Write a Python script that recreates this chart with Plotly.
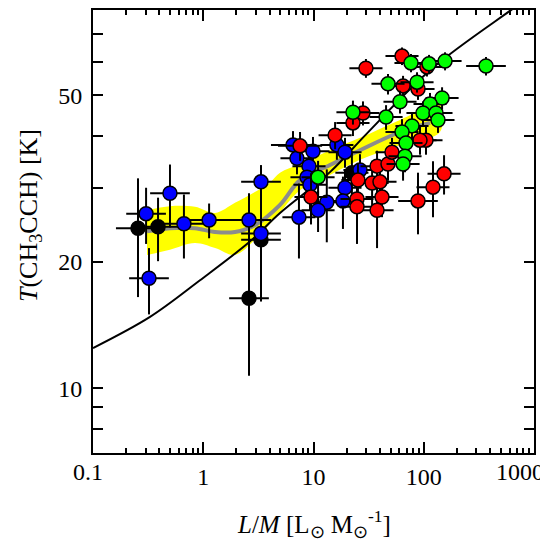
import plotly.graph_objects as go
import numpy as np

# ---- data ----
black_lm = [0.256, 0.389, 2.60, 3.34, 22.3]
black_t = [24.1, 24.3, 16.4, 22.6, 32.7]
black_xe = [0.20, 0.20, 0.18, 0.18, 0.15]   # dex
black_ye = [7.6, 4.2, 5.7, 6.5, 4.0]        # K

blue_lm = [0.303, 0.322, 0.499, 0.668, 1.13, 2.60, 3.34, 3.34, 7.38, 6.52, 7.08, 9.89,
           16.3, 19.3, 9.10, 8.73, 9.29, 13.2, 11.0, 19.3, 18.5, 26.4]
blue_t = [26.1, 18.3, 29.2, 24.7, 25.2, 25.2, 31.1, 23.4, 25.6, 38.1, 35.4, 36.8,
          38.1, 36.6, 33.9, 31.9, 30.6, 27.8, 26.6, 30.1, 28.0, 33.2]
blue_xe = [0.18, 0.18, 0.18, 0.20, 0.20, 0.20, 0.18, 0.18, 0.15, 0.20, 0.15, 0.15,
           0.15, 0.15, 0.15, 0.15, 0.15, 0.15, 0.15, 0.15, 0.15, 0.15]
blue_ye = [4.0, 3.3, 5.0, 4.3, 2.4, 4.0, 3.0, 2.0, 5.2, 3.0, 3.0, 3.0,
           3.0, 3.0, 3.0, 3.0, 4.0, 5.5, 3.0, 3.0, 4.0, 3.0]

red_lm = [7.55, 15.7, 22.8, 28.1, 9.49, 25.3, 24.8, 24.8, 34.0, 40.1, 41.8, 37.7, 37.7,
          47.4, 51.5, 88.7, 121.3, 152.8, 104.8, 92.5, 64.9, 88.7, 29.9, 63.5, 106.9]
red_t = [37.9, 40.2, 43.0, 45.4, 28.6, 31.4, 28.3, 27.1, 30.9, 31.1, 28.6, 26.6, 33.9,
         34.3, 36.6, 28.0, 30.2, 32.5, 39.1, 39.1, 52.7, 51.8, 58.1, 62.1, 58.5]
red_xe = [0.20, 0.15, 0.15, 0.15, 0.15, 0.15, 0.15, 0.15, 0.15, 0.15, 0.15, 0.15, 0.15,
          0.15, 0.15, 0.18, 0.15, 0.15, 0.15, 0.15, 0.15, 0.15, 0.15, 0.15, 0.15]
red_ye = [3.0, 3.0, 3.0, 3.0, 4.0, 3.0, 3.0, 5.0, 4.0, 3.0, 3.0, 5.0, 3.0,
          3.0, 3.0, 4.7, 4.6, 3.5, 3.0, 3.0, 3.0, 3.0, 3.0, 3.0, 3.0]

green_lm = [11.0, 22.8, 45.5, 47.4, 86.9, 60.9, 146.6, 114.0, 98.4, 129.1, 134.6, 78.2,
            63.5, 69.0, 67.6, 64.9, 76.6, 111.7, 156.0, 367.0]
green_t = [31.9, 45.6, 44.4, 53.3, 53.8, 48.3, 49.3, 47.7, 45.4, 45.4, 43.7, 42.3,
           40.9, 38.5, 35.8, 34.3, 59.8, 59.5, 60.4, 58.8]
green_xe = [0.15] * 19 + [0.18]
green_ye = [3.0] * 20

band_lm = [0.309, 0.499, 0.841, 1.28, 1.94, 2.94, 4.03, 4.97, 7.55, 14.1, 26.4, 60.9, 140.0]
band_hi = [26.6, 27.2, 27.1, 26.2, 27.7, 29.4, 31.0, 32.7, 34.3, 37.0, 39.6, 43.7, 47.5]
band_lo = [20.8, 21.4, 22.2, 21.6, 20.8, 22.6, 24.7, 26.3, 29.7, 32.3, 35.1, 38.1, 40.9]

med_lm = [0.309, 0.499, 0.841, 1.28, 1.94, 2.94, 4.97, 7.55, 14.1, 26.4, 60.9, 114.0]
med_t = [23.7, 24.1, 24.1, 23.6, 23.6, 24.5, 27.4, 31.4, 34.1, 37.0, 40.9, 43.0]

curve_lm = [0.1, 0.329, 0.934, 2.65, 4.97, 14.1, 30.6, 121.0, 605.0, 800.0]
curve_t = [12.47, 14.8, 18.1, 22.4, 26.2, 32.8, 40.6, 58.2, 79.6, 84.0]

x_ticks = [0.1, 1, 10, 100, 1000]
x_ticklabels = ["0.1", "1", "10", "100", "1000"]
y_ticks = [8, 9, 10, 20, 30, 40, 50, 60, 70]
y_ticklabels = ["", "", "10", "20", "", "", "50", "", ""]

FONT = "Liberation Serif, Times New Roman, serif"

fig = go.Figure()

# yellow band
fig.add_trace(go.Scatter(
    x=band_lm + band_lm[::-1], y=band_hi + band_lo[::-1],
    fill="toself", fillcolor="#FFFF00", line=dict(width=0, color="#FFFF00"),
    mode="lines", line_shape="spline", hoverinfo="skip", showlegend=False))
# grey running median
fig.add_trace(go.Scatter(x=med_lm, y=med_t, mode="lines", line_shape="spline",
                         line=dict(color="#8C8C8C", width=4), showlegend=False))
# black model curve
fig.add_trace(go.Scatter(x=curve_lm, y=curve_t, mode="lines", line_shape="spline",
                         line=dict(color="black", width=2), showlegend=False))


def add_group(lm, t, xe, ye, color):
    lm = np.array(lm)
    xe = np.array(xe)
    fig.add_trace(go.Scatter(
        x=lm, y=t, mode="markers",
        marker=dict(size=14, color=color, line=dict(color="black", width=1.5)),
        error_x=dict(type="data", symmetric=False,
                     array=lm * (10 ** xe - 1), arrayminus=lm * (1 - 10 ** -xe),
                     color="black", thickness=2, width=0),
        error_y=dict(type="data", array=ye, color="black", thickness=2, width=0),
        showlegend=False))


add_group(black_lm, black_t, black_xe, black_ye, "black")
add_group(blue_lm, blue_t, blue_xe, blue_ye, "#0000FF")
add_group(red_lm, red_t, red_xe, red_ye, "#FF0000")
add_group(green_lm, green_t, green_xe, green_ye, "#00FF00")

minor_x = [m * d for d in [0.1, 1, 10, 100] for m in range(2, 10)]

fig.update_xaxes(
    type="log", range=[-1, 3], showline=True, linecolor="black", linewidth=2,
    mirror="ticks", ticks="inside", ticklen=11, tickwidth=1.5, tickcolor="black",
    tickmode="array", tickvals=x_ticks, ticktext=["", "1", "10", "100", ""],
    automargin=False,
    minor=dict(ticks="inside", ticklen=5, tickwidth=1.5, tickcolor="black",
               tickmode="array", tickvals=minor_x, showgrid=False),
    showgrid=False, zeroline=False, ticklabelstandoff=1,
    tickfont=dict(family=FONT, size=24, color="black"))
fig.update_yaxes(
    type="log", range=[np.log10(7), np.log10(80)], showline=True, linecolor="black",
    linewidth=2, mirror="ticks", ticks="inside", ticklen=10, tickwidth=1.5,
    tickcolor="black", tickmode="array", tickvals=y_ticks, ticktext=y_ticklabels,
    showgrid=False, zeroline=False, ticklabelstandoff=4, automargin=False,
    tickfont=dict(family=FONT, size=24, color="black"))

# end labels of the x axis are nudged inwards, as in the reference
for val, lab, shift in [(x_ticks[0], x_ticklabels[0], -5), (x_ticks[-1], x_ticklabels[-1], -14)]:
    fig.add_annotation(x=np.log10(val), y=0, xref="x", yref="paper", text=lab,
                       showarrow=False, xanchor="center", yanchor="top",
                       xshift=shift, yshift=-4,
                       font=dict(family=FONT, size=24, color="black"))

fig.add_annotation(x=0.5, y=-0.160, xref="paper", yref="paper",
                   text="<i>L</i>/<i>M</i> [L<sub>⊙</sub> M<sub>⊙</sub><sup>-1</sup>]",
                   showarrow=False, xanchor="center", yanchor="middle",
                   font=dict(family=FONT, size=25, color="black"))
fig.add_annotation(x=-0.143, y=0.537, xref="paper", yref="paper",
                   text="<i>T</i>(CH<sub>3</sub>CCH) [K]", textangle=-90,
                   showarrow=False, xanchor="center", yanchor="middle",
                   font=dict(family=FONT, size=26, color="black"))

# page body has an 8px margin, so the figure is offset by (8, 8) in the window
fig.update_layout(
    width=540, height=540, margin=dict(l=85, r=14, t=2, b=95, autoexpand=False),
    paper_bgcolor="white", plot_bgcolor="white", showlegend=False)

fig.write_html("out.html")
